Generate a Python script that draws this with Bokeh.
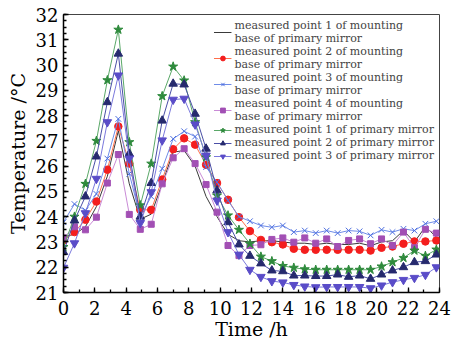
from bokeh.plotting import figure
from bokeh.models import SingleIntervalTicker, Range1d
from bokeh.embed import file_html
from bokeh.resources import INLINE

# Sampling times (h)
hours = [0.0, 0.7, 1.4, 2.1, 2.8, 3.5, 4.2, 4.9, 5.6, 6.3, 7.0, 7.7, 8.4, 9.1, 9.8,
         10.5, 11.2, 11.9, 12.6, 13.3, 14.0, 14.7, 15.4, 16.1, 16.8, 17.5, 18.2,
         18.9, 19.6, 20.3, 21.0, 21.7, 22.4, 23.1, 23.8]

# Temperatures (°C) of the mounting base measuring points
base_p1 = [23.2, 23.3, 23.6, 24.4, 25.6, 27.4, 25.3, 23.9, 24.1, 25.3, 26.55, 26.62,
           26.0, 24.8, 24.0, 23.3, 23.05, 23.0, 23.05, 23.05, 23.0, 22.95, 22.95,
           22.9, 22.95, 22.9, 22.9, 22.95, 22.85, 23.0, 23.05, 23.45, 23.0, 23.6, 23.2]
base_p2 = [23.06, 23.39, 23.88, 24.6, 25.86, 27.57, 26.1, 24.27, 24.27, 25.47, 26.67,
           27.1, 26.85, 26.05, 25.33, 24.67, 23.98, 23.43, 23.08, 22.99, 22.9, 22.73,
           22.69, 22.69, 22.69, 22.69, 22.69, 22.69, 22.66, 22.77, 22.82, 22.93,
           23.02, 23.02, 23.06]
base_p3 = [23.78, 24.5, 24.25, 24.9, 26.3, 27.87, 25.7, 24.0, 24.8, 25.9, 27.08, 27.38,
           27.17, 25.96, 25.37, 24.64, 24.0, 23.82, 23.65, 23.58, 23.65, 23.39, 23.45,
           23.35, 23.45, 23.35, 23.45, 23.42, 23.26, 23.48, 23.39, 23.52, 23.45,
           23.72, 23.82]
base_p4 = [23.16, 23.6, 23.48, 23.98, 25.33, 26.46, 24.09, 23.5, 23.7, 25.3, 26.33,
           26.69, 26.1, 25.27, 24.18, 22.86, 22.46, 22.86, 22.89, 23.1, 23.16, 22.99,
           23.16, 22.95, 23.12, 22.82, 23.06, 23.12, 22.93, 23.12, 22.86, 23.39,
           22.77, 23.5, 23.35]

# Temperatures (°C) of the primary mirror measuring points
mirror_p1 = [22.8, 24.0, 25.3, 27.0, 29.4, 31.4, 26.95, 24.45, 26.1, 28.77, 29.94,
             29.39, 27.74, 26.35, 24.84, 24.05, 23.48, 22.93, 22.42, 22.24, 22.05,
             21.98, 21.92, 21.9, 21.9, 21.9, 21.9, 21.9, 21.9, 22.03, 22.2, 22.37,
             22.66, 22.45, 22.7]
mirror_p2 = [22.6, 23.85, 24.8, 26.38, 28.53, 30.45, 26.49, 24.0, 25.33, 27.8, 29.26,
             29.23, 28.07, 26.69, 25.04, 23.78, 22.9, 22.45, 22.15, 21.87, 21.84,
             21.67, 21.67, 21.65, 21.65, 21.71, 21.62, 21.67, 21.54, 21.71, 21.87,
             22.0, 22.2, 22.24, 22.5]
mirror_p3 = [21.98, 22.95, 24.14, 25.5, 27.74, 29.59, 26.3, 23.75, 24.97, 27.02, 28.63,
             28.67, 27.65, 26.42, 24.64, 23.39, 22.5, 21.9, 21.62, 21.45, 21.4, 21.3,
             21.24, 21.21, 21.22, 21.22, 21.22, 21.22, 21.17, 21.28, 21.41, 21.5,
             21.58, 21.7, 22.0]

labels = [
    "measured point 1 of mounting\nbase of primary mirror",
    "measured point 2 of mounting\nbase of primary mirror",
    "measured point 3 of mounting\nbase of primary mirror",
    "measured point 4 of mounting\nbase of primary mirror",
    "measured point 1 of primary mirror",
    "measured point 2 of primary mirror",
    "measured point 3 of primary mirror",
]

SERIF = "DejaVu Serif"

p = figure(width=462, height=342, output_backend="svg", toolbar_location=None,
           x_range=Range1d(0, 24), y_range=Range1d(21, 32),
           min_border_left=63, min_border_right=23, min_border_top=14,
           min_border_bottom=50)

p.background_fill_color = "white"
p.border_fill_color = "white"
p.outline_line_color = "#444444"
p.outline_line_width = 1
p.xgrid.visible = False
p.ygrid.visible = False

# series: (values, marker, marker colour, line colour, size)
series = [
    (base_p1, None, None, "#3a3a3a", 0),
    (base_p2, "circle", "#f41e1e", "#ff6e4a", 7.5),
    (base_p3, "x", "#4d6fe0", "#6f8ce8", 8),
    (base_p4, "square", "#a24fb4", "#c98bd6", 6),
    (mirror_p1, "star", "#2e8a3c", "#5aa868", 9.5),
    (mirror_p2, "triangle", "#262a6e", "#4a4fa6", 8.5),
    (mirror_p3, "inverted_triangle", "#5a4cc8", "#7a78dc", 8.5),
]

for (vals, marker, mcol, lcol, size), lab in zip(series, labels):
    p.line(hours, vals, line_color=lcol, line_width=1, legend_label=lab)
    if marker is not None:
        p.scatter(hours, vals, marker=marker, size=size, fill_color=mcol,
                  line_color=mcol, line_width=1, legend_label=lab)

p.xaxis.ticker = SingleIntervalTicker(interval=2, num_minor_ticks=2)
p.yaxis.ticker = SingleIntervalTicker(interval=1, num_minor_ticks=4)

for ax in (p.xaxis[0], p.yaxis[0]):
    ax.axis_line_color = "black"
    ax.axis_line_width = 1.5
    ax.major_tick_in = 5
    ax.major_tick_out = 0
    ax.minor_tick_in = 3
    ax.minor_tick_out = 0
    ax.major_tick_line_color = "black"
    ax.minor_tick_line_color = "black"
    ax.major_tick_line_width = 1.3
    ax.minor_tick_line_width = 1.3
    ax.major_label_text_font = SERIF
    ax.major_label_text_font_size = "18px"
    ax.major_label_text_color = "black"
    ax.axis_label_text_font = SERIF
    ax.axis_label_text_font_size = "19px"
    ax.axis_label_text_font_style = "normal"
    ax.axis_label_text_color = "black"

p.xaxis.axis_label = "Time /h"
p.yaxis.axis_label = "Temperature /°C"
p.xaxis.major_label_standoff = 8
p.yaxis.major_label_standoff = 5
p.xaxis.axis_label_standoff = 0
p.yaxis.axis_label_standoff = 4

lg = p.legend[0]
lg.location = "top_right"
lg.margin = 3
lg.padding = 2
lg.spacing = 0
lg.border_line_alpha = 0
lg.background_fill_alpha = 0
lg.label_text_font = SERIF
lg.label_text_font_size = "11px"
lg.label_text_line_height = 1.2
lg.label_height = 12
lg.glyph_height = 12
lg.glyph_width = 18
lg.label_standoff = 3

open("out.html", "w").write(file_html(p, INLINE))
